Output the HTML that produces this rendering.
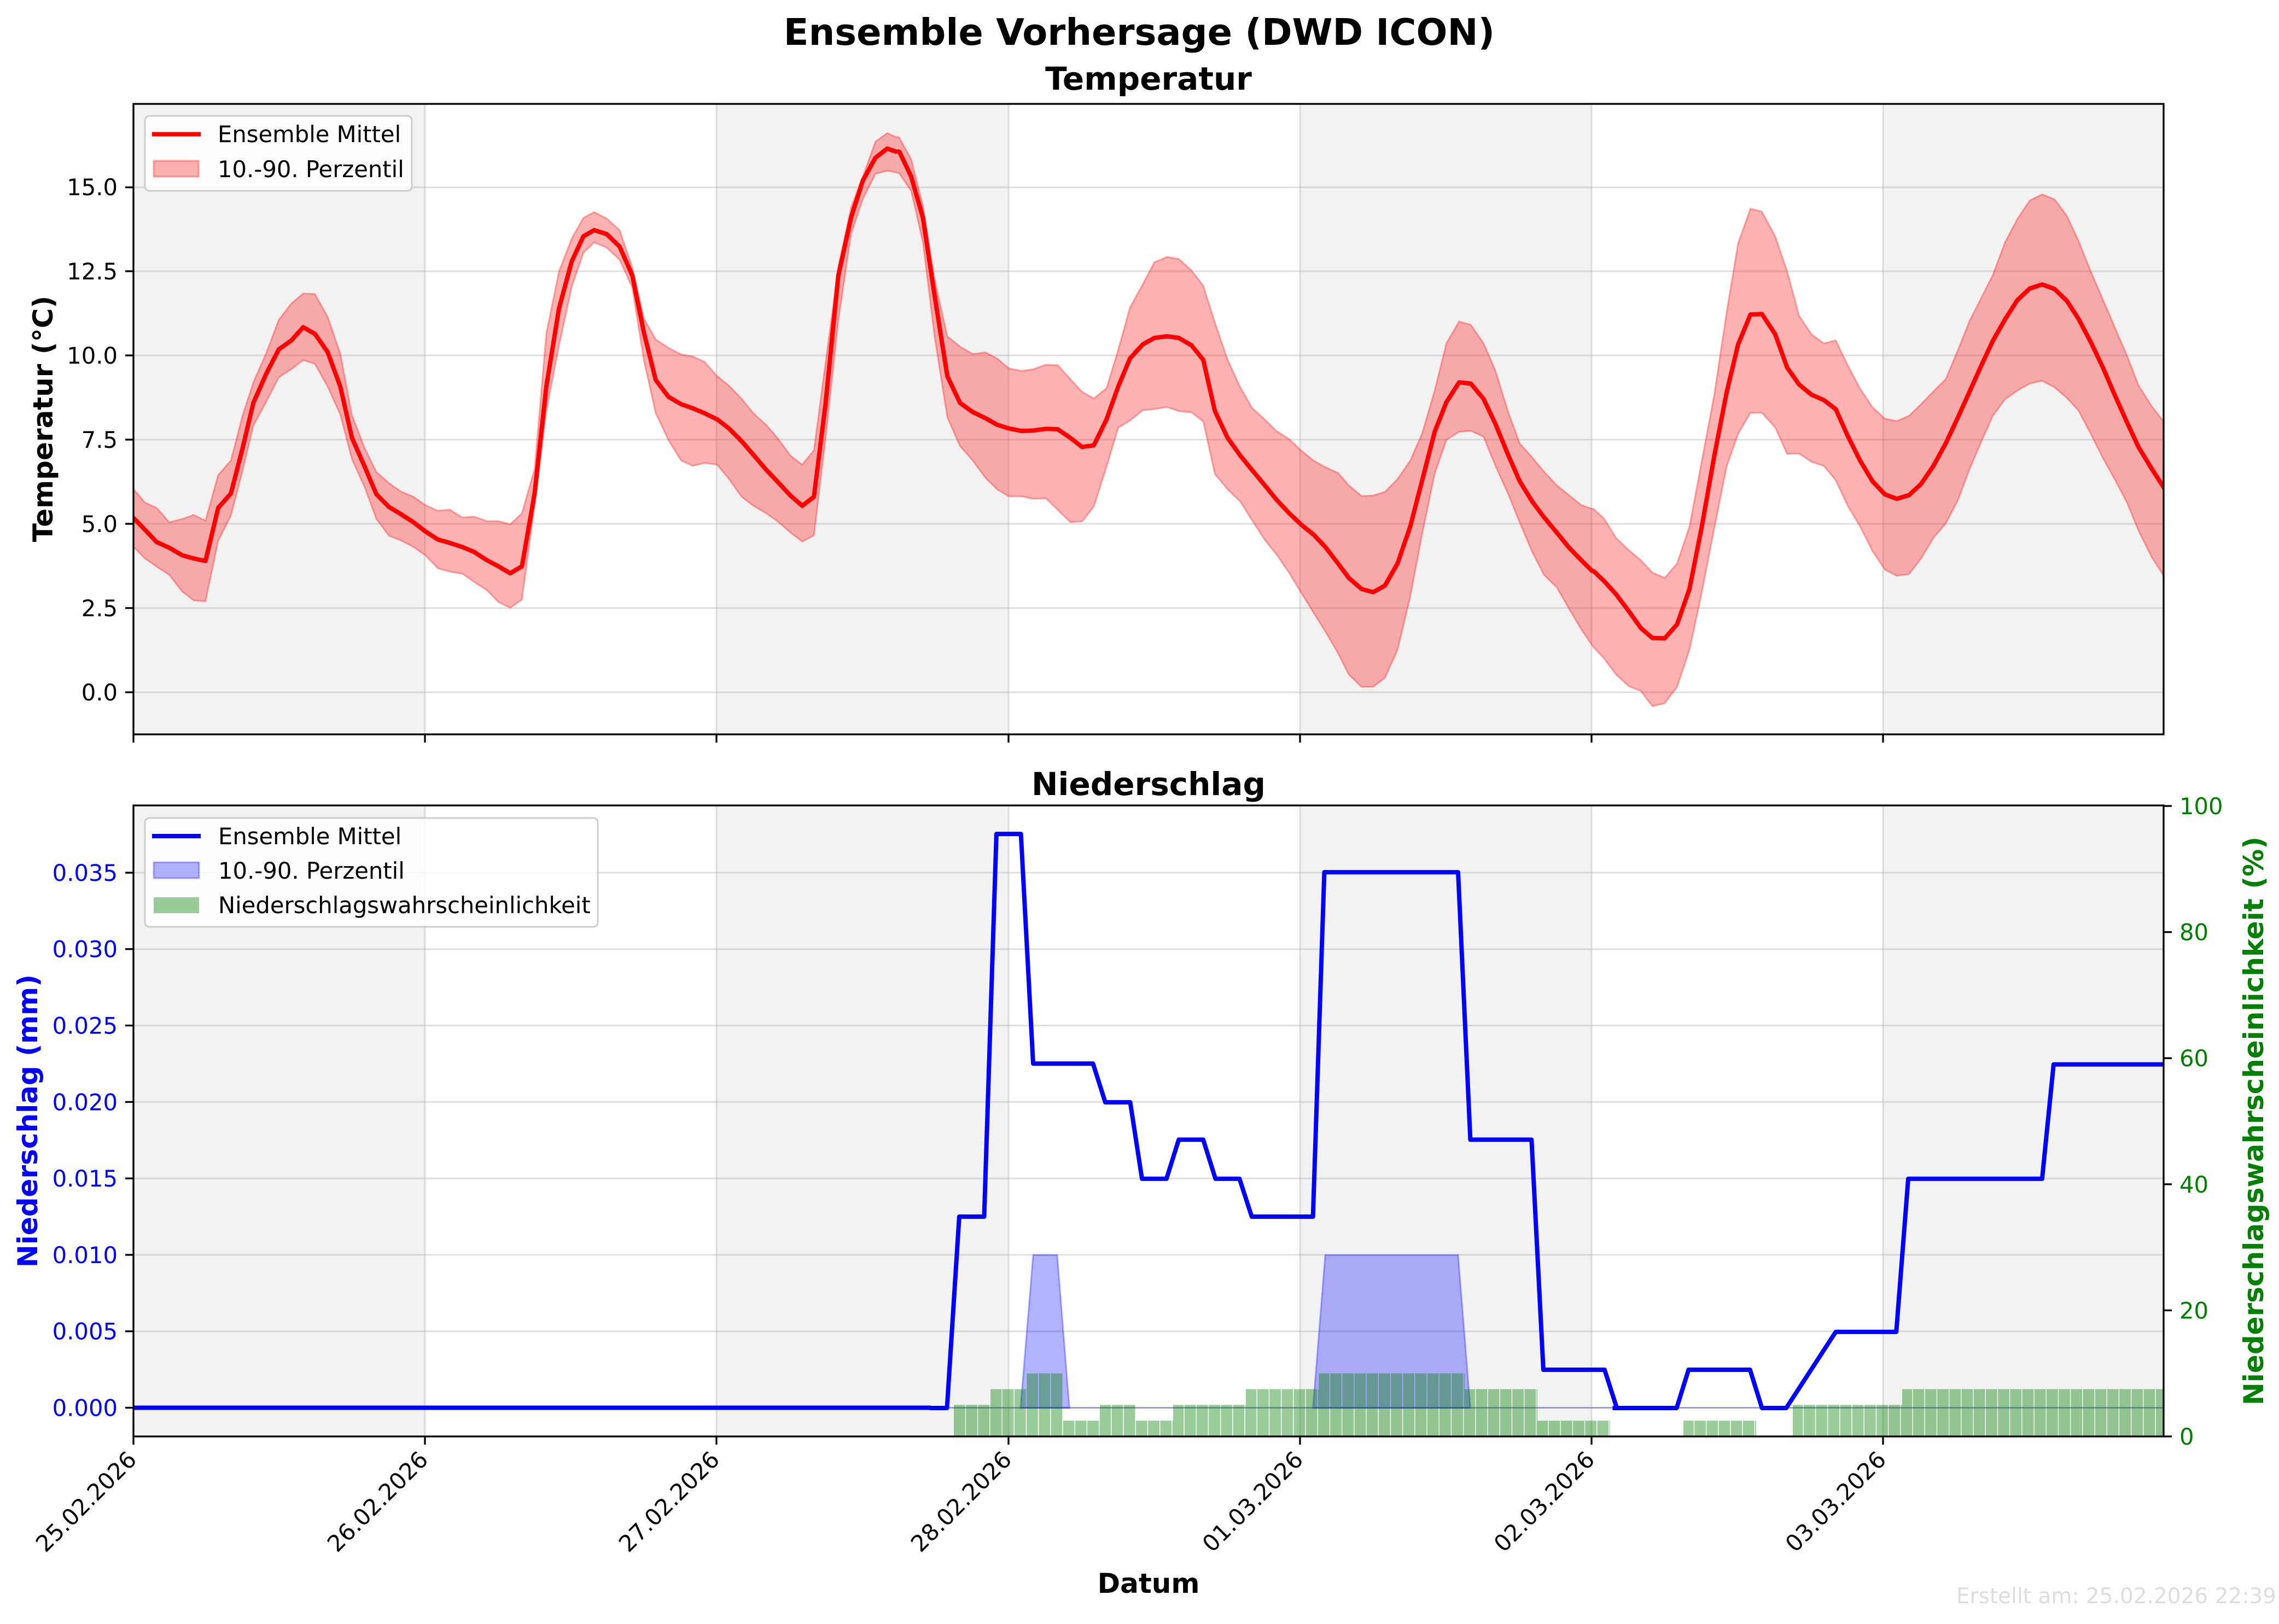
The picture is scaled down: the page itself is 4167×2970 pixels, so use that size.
<!DOCTYPE html>
<html><head><meta charset="utf-8"><style>html,body{margin:0;padding:0;background:#fff}svg{display:block}</style></head>
<body>
<svg xmlns="http://www.w3.org/2000/svg" width="4167" height="2970" viewBox="0 0 4167 2970" font-family="'DejaVu Sans','Liberation Sans',sans-serif">
<defs>
<clipPath id="c1"><rect x="244" y="190" width="3712" height="1153"/></clipPath>
<clipPath id="c2"><rect x="244" y="1473" width="3712" height="1154"/></clipPath>
<pattern id="pb" patternUnits="userSpaceOnUse" x="1744" y="0" width="22.2" height="3000"><rect x="0" y="0" width="20.7" height="3000" fill="rgb(0,128,0)" fill-opacity="0.4"/></pattern>
</defs>
<rect width="4167" height="2970" fill="#fff"/>
<text x="2083" y="82" font-size="67" font-weight="bold" text-anchor="middle">Ensemble Vorhersage (DWD ICON)</text>

<text x="2100" y="164" font-size="58" font-weight="bold" text-anchor="middle">Temperatur</text>
<g clip-path="url(#c1)">
<rect x="244" y="190" width="533" height="1153" fill="#f2f2f2"/>
<rect x="1310" y="190" width="533" height="1153" fill="#f2f2f2"/>
<rect x="2377" y="190" width="533" height="1153" fill="#f2f2f2"/>
<rect x="3443" y="190" width="513" height="1153" fill="#f2f2f2"/>
<g stroke="#b0b0b0" stroke-opacity="0.4" stroke-width="3">
<line x1="244" x2="3956" y1="1266" y2="1266"/><line x1="244" x2="3956" y1="1112" y2="1112"/><line x1="244" x2="3956" y1="958" y2="958"/><line x1="244" x2="3956" y1="804" y2="804"/><line x1="244" x2="3956" y1="650" y2="650"/><line x1="244" x2="3956" y1="496" y2="496"/><line x1="244" x2="3956" y1="342.6" y2="342.6"/>
<line x1="777" x2="777" y1="190" y2="1343"/><line x1="1310" x2="1310" y1="190" y2="1343"/><line x1="1844" x2="1844" y1="190" y2="1343"/><line x1="2377" x2="2377" y1="190" y2="1343"/><line x1="2910" x2="2910" y1="190" y2="1343"/><line x1="3443" x2="3443" y1="190" y2="1343"/>
</g>
<g transform="translate(240,180) scale(0.892857,0.75256)">
<polygon fill="rgb(255,0,0)" fill-opacity="0.3" points="5,950 28,982 52,995 78,1030 104,1022 128,1012 152,1026 178,915 204,880 228,770 250,690 276,620 302,538 328,498 352,474 376,475 402,530 428,620 452,770 478,850 502,908 528,935 552,955 578,968 602,988 628,1002 652,999 678,1018 702,1016 728,1027 752,1027 776,1035 800,1008 826,900 850,570 876,420 902,340 926,290 948,276 974,292 1000,320 1026,410 1050,535 1074,586 1100,606 1126,622 1150,627 1174,640 1200,675 1224,698 1250,730 1274,765 1300,793 1324,826 1350,868 1374,890 1398,855 1422,640 1448,410 1474,265 1498,190 1524,105 1548,84 1568,95 1568,180 1548,176 1524,183 1498,245 1474,330 1448,540 1422,825 1398,1062 1374,1077 1350,1055 1324,1028 1300,1008 1274,990 1250,968 1224,925 1200,890 1174,886 1150,893 1126,880 1100,830 1074,765 1050,638 1026,460 1000,392 974,363 948,350 926,375 902,458 876,600 850,760 826,990 800,1218 776,1238 752,1224 728,1195 702,1175 678,1155 652,1150 628,1142 602,1110 578,1090 552,1074 528,1063 502,1022 478,945 452,877 428,768 402,700 376,645 352,636 328,658 302,678 276,738 250,795 228,905 204,1014 178,1075 152,1222 128,1220 104,1198 78,1158 52,1138 28,1118 5,1090"/>
<g fill="none" stroke="rgb(255,0,0)" stroke-opacity="0.3" stroke-width="3">
<polyline vector-effect="non-scaling-stroke" points="5,950 28,982 52,995 78,1030 104,1022 128,1012 152,1026 178,915 204,880 228,770 250,690 276,620 302,538 328,498 352,474 376,475 402,530 428,620 452,770 478,850 502,908 528,935 552,955 578,968 602,988 628,1002 652,999 678,1018 702,1016 728,1027 752,1027 776,1035 800,1008 826,900 850,570 876,420 902,340 926,290 948,276 974,292 1000,320 1026,410 1050,535 1074,586 1100,606 1126,622 1150,627 1174,640 1200,675 1224,698 1250,730 1274,765 1300,793 1324,826 1350,868 1374,890 1398,855 1422,640 1448,410 1474,265 1498,190 1524,105 1548,84 1568,95"/>
<polyline vector-effect="non-scaling-stroke" points="5,1090 28,1118 52,1138 78,1158 104,1198 128,1220 152,1222 178,1075 204,1014 228,905 250,795 276,738 302,678 328,658 352,636 376,645 402,700 428,768 452,877 478,945 502,1022 528,1063 552,1074 578,1090 602,1110 628,1142 652,1150 678,1155 702,1175 728,1195 752,1224 776,1238 800,1218 826,990 850,760 876,600 902,458 926,375 948,350 974,363 1000,392 1026,460 1050,638 1074,765 1100,830 1126,880 1150,893 1174,886 1200,890 1224,925 1250,968 1274,990 1300,1008 1324,1028 1350,1055 1374,1077 1398,1062 1422,825 1448,540 1474,330 1498,245 1524,183 1548,176 1568,180"/>
</g>
<polyline fill="none" stroke="#ff0000" stroke-width="8" stroke-linejoin="round" vector-effect="non-scaling-stroke" points="0,1015 5,1020 28,1048 52,1078 78,1092 104,1110 128,1118 152,1124 178,995 204,960 228,850 250,740 276,670 302,610 328,588 352,556 376,572 402,616 428,700 452,825 478,895 502,962 528,993 552,1010 578,1030 602,1052 628,1072 652,1080 678,1090 702,1102 728,1122 752,1137 776,1154 800,1137 826,960 850,700 876,510 902,396 926,335 948,320 974,330 1000,360 1026,430 1050,570 1074,684 1100,725 1126,743 1150,753 1174,765 1200,780 1224,802 1250,833 1274,866 1300,902 1324,932 1350,965 1374,990 1398,968 1422,740 1448,430 1474,290 1498,200 1524,144 1548,122 1568,130"/>
</g>
<g transform="translate(1600,180) scale(0.892857,0.75256)">
<polygon fill="rgb(255,0,0)" fill-opacity="0.3" points="45,92 50,96 74,148 98,260 122,440 148,578 174,603 200,621 226,617 250,632 274,656 300,662 324,658 350,647 374,648 400,682 424,713 448,729 474,704 498,610 522,508 548,452 572,398 598,385 622,390 648,418 672,455 696,545 722,635 748,702 772,752 798,780 822,808 848,828 872,855 898,880 922,896 948,910 970,940 996,966 1020,965 1044,956 1070,925 1096,880 1120,815 1146,710 1170,595 1196,542 1220,550 1246,595 1270,660 1296,760 1320,838 1346,873 1370,907 1396,940 1420,963 1446,988 1470,998 1470,1332 1446,1290 1420,1238 1396,1188 1370,1158 1346,1103 1320,1030 1296,960 1270,892 1246,822 1220,808 1196,810 1170,830 1146,912 1120,1060 1096,1210 1070,1340 1044,1408 1020,1430 996,1430 970,1400 948,1348 922,1295 898,1250 872,1200 848,1153 822,1108 798,1073 772,1025 748,980 722,950 696,913 672,785 648,763 622,760 598,750 572,755 548,758 522,783 498,800 474,895 448,992 424,1028 400,1030 374,1000 350,972 324,973 300,967 274,967 250,950 226,922 200,880 174,845 148,775 122,580 98,350 74,225 50,183 45,180"/>
<g fill="none" stroke="rgb(255,0,0)" stroke-opacity="0.3" stroke-width="3">
<polyline vector-effect="non-scaling-stroke" points="45,92 50,96 74,148 98,260 122,440 148,578 174,603 200,621 226,617 250,632 274,656 300,662 324,658 350,647 374,648 400,682 424,713 448,729 474,704 498,610 522,508 548,452 572,398 598,385 622,390 648,418 672,455 696,545 722,635 748,702 772,752 798,780 822,808 848,828 872,855 898,880 922,896 948,910 970,940 996,966 1020,965 1044,956 1070,925 1096,880 1120,815 1146,710 1170,595 1196,542 1220,550 1246,595 1270,660 1296,760 1320,838 1346,873 1370,907 1396,940 1420,963 1446,988 1470,998"/>
<polyline vector-effect="non-scaling-stroke" points="45,180 50,183 74,225 98,350 122,580 148,775 174,845 200,880 226,922 250,950 274,967 300,967 324,973 350,972 374,1000 400,1030 424,1028 448,992 474,895 498,800 522,783 548,758 572,755 598,750 622,760 648,763 672,785 696,913 722,950 748,980 772,1025 798,1073 822,1108 848,1153 872,1200 898,1250 922,1295 948,1348 970,1400 996,1430 1020,1430 1044,1408 1070,1340 1096,1210 1120,1060 1146,912 1170,830 1196,810 1220,808 1246,822 1270,892 1296,960 1320,1030 1346,1103 1370,1158 1396,1188 1420,1238 1446,1290 1470,1332"/>
</g>
<polyline fill="none" stroke="#ff0000" stroke-width="8" stroke-linejoin="round" vector-effect="non-scaling-stroke" points="45,128 50,130 74,190 98,290 122,480 148,675 174,740 200,762 226,777 250,793 274,802 300,808 324,807 350,803 374,804 400,825 424,847 448,843 474,780 498,700 522,632 548,598 572,582 598,578 622,582 648,600 672,635 696,760 722,825 748,868 772,903 798,940 822,975 848,1008 872,1035 898,1060 922,1090 948,1130 970,1165 996,1192 1020,1200 1044,1184 1070,1130 1096,1040 1120,930 1146,810 1170,738 1196,690 1220,693 1246,730 1270,790 1296,865 1320,930 1346,980 1370,1018 1396,1055 1420,1090 1446,1122 1470,1150"/>
</g>
<g transform="translate(2900,180) scale(0.80802,0.75256)">
<polygon fill="rgb(255,0,0)" fill-opacity="0.3" points="15.5,996 40,1020 68,1068 96,1097 124,1122 150,1152 178,1165 206,1130 234,1040 262,880 290,720 318,520 344,352 372,268 398,275 428,335 455,420 482,528 510,573 538,595 565,588 592,648 620,705 648,750 676,778 703,784 731,771 758,743 786,712 814,682 842,610 868,540 894,485 920,430 948,350 976,293 1004,248 1032,233 1060,245 1088,285 1114,345 1142,420 1170,490 1196,555 1224,625 1250,697 1280,748 1307,785 1330,800 1330,1180 1307,1160 1280,1115 1250,1050 1224,982 1196,925 1170,875 1142,815 1114,758 1088,728 1060,702 1032,686 1004,693 976,710 948,731 920,772 894,835 868,900 842,975 814,1033 786,1068 758,1118 731,1156 703,1160 676,1145 648,1100 620,1040 592,990 565,928 538,893 510,883 482,863 455,864 428,800 398,764 372,764 344,815 318,895 290,1045 262,1200 234,1340 206,1430 178,1470 150,1477 124,1440 96,1428 68,1400 40,1360 15.5,1332"/>
<g fill="none" stroke="rgb(255,0,0)" stroke-opacity="0.3" stroke-width="3">
<polyline vector-effect="non-scaling-stroke" points="15.5,996 40,1020 68,1068 96,1097 124,1122 150,1152 178,1165 206,1130 234,1040 262,880 290,720 318,520 344,352 372,268 398,275 428,335 455,420 482,528 510,573 538,595 565,588 592,648 620,705 648,750 676,778 703,784 731,771 758,743 786,712 814,682 842,610 868,540 894,485 920,430 948,350 976,293 1004,248 1032,233 1060,245 1088,285 1114,345 1142,420 1170,490 1196,555 1224,625 1250,697 1280,748 1307,785"/>
<polyline vector-effect="non-scaling-stroke" points="15.5,1332 40,1360 68,1400 96,1428 124,1440 150,1477 178,1470 206,1430 234,1340 262,1200 290,1045 318,895 344,815 372,764 398,764 428,800 455,864 482,863 510,883 538,893 565,928 592,990 620,1040 648,1100 676,1145 703,1160 731,1156 758,1118 786,1068 814,1033 842,975 868,900 894,835 920,772 948,731 976,710 1004,693 1032,686 1060,702 1088,728 1114,758 1142,815 1170,875 1196,925 1224,982 1250,1050 1280,1115 1307,1160"/>
</g>
<polyline fill="none" stroke="#ff0000" stroke-width="8" stroke-linejoin="round" vector-effect="non-scaling-stroke" points="15.5,1147 40,1172 68,1205 96,1245 124,1287 150,1311 178,1312 206,1278 234,1192 262,1040 290,870 318,715 344,598 372,525 398,524 428,573 455,654 482,695 510,720 538,733 565,755 592,820 620,880 648,930 676,962 703,973 731,964 758,937 786,893 814,838 842,774 868,712 894,650 920,590 948,537 976,490 1004,462 1032,452 1060,463 1088,492 1114,535 1142,592 1170,655 1196,720 1224,787 1250,847 1280,900 1307,945 1330,980"/>
</g>
</g>
<rect x="244" y="190" width="3712" height="1153" fill="none" stroke="#000" stroke-width="3.3"/>
<g stroke="#000" stroke-width="3.3">
<line x1="229" x2="244" y1="1266" y2="1266"/><line x1="229" x2="244" y1="1112" y2="1112"/><line x1="229" x2="244" y1="958" y2="958"/><line x1="229" x2="244" y1="804" y2="804"/><line x1="229" x2="244" y1="650" y2="650"/><line x1="229" x2="244" y1="496" y2="496"/><line x1="229" x2="244" y1="342.6" y2="342.6"/>
<line x1="244" x2="244" y1="1343" y2="1358"/><line x1="777" x2="777" y1="1343" y2="1358"/><line x1="1310" x2="1310" y1="1343" y2="1358"/><line x1="1844" x2="1844" y1="1343" y2="1358"/><line x1="2377" x2="2377" y1="1343" y2="1358"/><line x1="2910" x2="2910" y1="1343" y2="1358"/><line x1="3443" x2="3443" y1="1343" y2="1358"/>
</g>
<g font-size="41.7" text-anchor="end">
<text x="215" y="1281">0.0</text><text x="215" y="1127">2.5</text><text x="215" y="973">5.0</text><text x="215" y="819">7.5</text><text x="215" y="665">10.0</text><text x="215" y="511">12.5</text><text x="215" y="357">15.0</text>
</g>
<text transform="translate(96,766) rotate(-90)" font-size="50" font-weight="bold" text-anchor="middle">Temperatur (°C)</text>
<rect x="265" y="212" width="488" height="137" rx="8" fill="#fff" fill-opacity="0.8" stroke="#cccccc" stroke-width="3"/>
<line x1="278" x2="367" y1="245.5" y2="245.5" stroke="#ff0000" stroke-width="8"/>
<text x="398" y="260" font-size="41.7">Ensemble Mittel</text>
<rect x="281" y="294" width="82" height="29" fill="rgb(255,0,0)" fill-opacity="0.3" stroke="rgb(255,0,0)" stroke-opacity="0.3" stroke-width="3"/>
<text x="398" y="324" font-size="41.7">10.-90. Perzentil</text>

<text x="2100" y="1454" font-size="58" font-weight="bold" text-anchor="middle">Niederschlag</text>
<g clip-path="url(#c2)">
<rect x="244" y="1473" width="533" height="1154" fill="#f2f2f2"/>
<rect x="1310" y="1473" width="533" height="1154" fill="#f2f2f2"/>
<rect x="2377" y="1473" width="533" height="1154" fill="#f2f2f2"/>
<rect x="3443" y="1473" width="513" height="1154" fill="#f2f2f2"/>
<g stroke="#b0b0b0" stroke-opacity="0.4" stroke-width="3">
<line x1="244" x2="3956" y1="2574.5" y2="2574.5"/><line x1="244" x2="3956" y1="2434.7" y2="2434.7"/><line x1="244" x2="3956" y1="2294.9" y2="2294.9"/><line x1="244" x2="3956" y1="2155.1" y2="2155.1"/><line x1="244" x2="3956" y1="2015.3" y2="2015.3"/><line x1="244" x2="3956" y1="1875.5" y2="1875.5"/><line x1="244" x2="3956" y1="1735.7" y2="1735.7"/><line x1="244" x2="3956" y1="1596" y2="1596"/>
<line x1="777" x2="777" y1="1473" y2="2627"/><line x1="1310" x2="1310" y1="1473" y2="2627"/><line x1="1844" x2="1844" y1="1473" y2="2627"/><line x1="2377" x2="2377" y1="1473" y2="2627"/><line x1="2910" x2="2910" y1="1473" y2="2627"/><line x1="3443" x2="3443" y1="1473" y2="2627"/>
</g>
<line x1="244" x2="3956" y1="2574.5" y2="2574.5" stroke="rgb(0,0,255)" stroke-opacity="0.3" stroke-width="3"/>
<line x1="244" x2="1702" y1="2574.5" y2="2574.5" stroke="#0000ff" stroke-width="8"/>
<g transform="translate(1700,1480) scale(0.82921,0.75256)">
<polygon fill="rgb(0,0,255)" fill-opacity="0.3" stroke="rgb(0,0,255)" stroke-opacity="0.3" stroke-width="3" vector-effect="non-scaling-stroke" points="200,1455 228,1083 281,1083 308,1455"/>
<polygon fill="rgb(0,0,255)" fill-opacity="0.3" stroke="rgb(0,0,255)" stroke-opacity="0.3" stroke-width="3" vector-effect="non-scaling-stroke" points="845,1455 872,1083 1165,1083 1192,1455"/>
<polyline fill="none" stroke="#0000ff" stroke-width="8" stroke-linejoin="round" vector-effect="non-scaling-stroke" points="0,1455 38,1455 65,990 120,990 147,60 201,60 228,618 360,618 387,712 442,712 468,898 522,898 549,803 603,803 630,898 683,898 710,990 845,990 870,153 1165,153 1192,803 1327,803 1353,1362 1488,1362 1515,1455 1540,1455"/>
</g>
<g transform="translate(2900,1480) scale(0.80802,0.75256)">
<polyline fill="none" stroke="#0000ff" stroke-width="8" stroke-linejoin="round" vector-effect="non-scaling-stroke" points="60,1455 205,1455 232,1362 371,1362 398,1455 453,1455 565,1270 702,1270 729,898 1032,898 1058,620 1330,620"/>
</g>
<g fill="url(#pb)">
<rect x="1744" y="2569.3" width="67" height="57.7"/>
<rect x="1811" y="2540.5" width="66.5" height="86.5"/>
<rect x="1877.5" y="2511.7" width="66.5" height="115.3"/>
<rect x="1944" y="2598.2" width="67" height="28.8"/>
<rect x="2011" y="2569.3" width="66" height="57.7"/>
<rect x="2077" y="2598.2" width="68" height="28.8"/>
<rect x="2145" y="2569.3" width="133" height="57.7"/>
<rect x="2278" y="2540.5" width="133.5" height="86.5"/>
<rect x="2411.5" y="2511.7" width="266.5" height="115.3"/>
<rect x="2678" y="2540.5" width="133" height="86.5"/>
<rect x="2811" y="2598.2" width="133" height="28.8"/>
<rect x="3078" y="2598.2" width="133" height="28.8"/>
<rect x="3278" y="2569.3" width="200" height="57.7"/>
<rect x="3478" y="2540.5" width="478" height="86.5"/>
</g>
</g>
<rect x="244" y="1473" width="3712" height="1154" fill="none" stroke="#000" stroke-width="3.3"/>
<g stroke="#000" stroke-width="3.3">
<line x1="229" x2="244" y1="2574.5" y2="2574.5"/><line x1="229" x2="244" y1="2434.7" y2="2434.7"/><line x1="229" x2="244" y1="2294.9" y2="2294.9"/><line x1="229" x2="244" y1="2155.1" y2="2155.1"/><line x1="229" x2="244" y1="2015.3" y2="2015.3"/><line x1="229" x2="244" y1="1875.5" y2="1875.5"/><line x1="229" x2="244" y1="1735.7" y2="1735.7"/><line x1="229" x2="244" y1="1596" y2="1596"/>
<line x1="3956" x2="3971" y1="2627" y2="2627"/><line x1="3956" x2="3971" y1="2396.4" y2="2396.4"/><line x1="3956" x2="3971" y1="2165.8" y2="2165.8"/><line x1="3956" x2="3971" y1="1935.2" y2="1935.2"/><line x1="3956" x2="3971" y1="1704.6" y2="1704.6"/><line x1="3956" x2="3971" y1="1474" y2="1474"/>
<line x1="244" x2="244" y1="2627" y2="2642"/><line x1="777" x2="777" y1="2627" y2="2642"/><line x1="1310" x2="1310" y1="2627" y2="2642"/><line x1="1844" x2="1844" y1="2627" y2="2642"/><line x1="2377" x2="2377" y1="2627" y2="2642"/><line x1="2910" x2="2910" y1="2627" y2="2642"/><line x1="3443" x2="3443" y1="2627" y2="2642"/>
</g>
<g font-size="41.7" text-anchor="end" fill="#0000ff">
<text x="215" y="2589.5">0.000</text><text x="215" y="2449.7">0.005</text><text x="215" y="2309.9">0.010</text><text x="215" y="2170.1">0.015</text><text x="215" y="2030.3">0.020</text><text x="215" y="1890.5">0.025</text><text x="215" y="1750.7">0.030</text><text x="215" y="1611">0.035</text>
</g>
<g font-size="41.7" fill="#008000">
<text x="3985" y="2642">0</text><text x="3985" y="2411.4">20</text><text x="3985" y="2180.8">40</text><text x="3985" y="1950.2">60</text><text x="3985" y="1719.6">80</text><text x="3985" y="1489">100</text>
</g>
<text transform="translate(68,2050) rotate(-90)" font-size="50" font-weight="bold" text-anchor="middle" fill="#0000ff">Niederschlag (mm)</text>
<text transform="translate(4138,2050) rotate(-90)" font-size="50" font-weight="bold" text-anchor="middle" fill="#008000">Niederschlagswahrscheinlichkeit (%)</text>
<g font-size="41.7" text-anchor="end">
<text transform="translate(252,2672) rotate(-45)">25.02.2026</text>
<text transform="translate(785,2672) rotate(-45)">26.02.2026</text>
<text transform="translate(1318,2672) rotate(-45)">27.02.2026</text>
<text transform="translate(1852,2672) rotate(-45)">28.02.2026</text>
<text transform="translate(2385,2672) rotate(-45)">01.03.2026</text>
<text transform="translate(2918,2672) rotate(-45)">02.03.2026</text>
<text transform="translate(3451,2672) rotate(-45)">03.03.2026</text>
</g>
<text x="2100" y="2913" font-size="50" font-weight="bold" text-anchor="middle">Datum</text>
<text x="4162" y="2932" font-size="39" fill="#dddddd" text-anchor="end">Erstellt am: 25.02.2026 22:39</text>
<rect x="265" y="1496" width="828" height="199" rx="8" fill="#fff" fill-opacity="0.8" stroke="#cccccc" stroke-width="3"/>
<line x1="278" x2="367" y1="1529" y2="1529" stroke="#0000ff" stroke-width="8"/>
<text x="399" y="1544" font-size="41.7">Ensemble Mittel</text>
<rect x="281" y="1577" width="83" height="29" fill="rgb(0,0,255)" fill-opacity="0.3" stroke="rgb(0,0,255)" stroke-opacity="0.3" stroke-width="3"/>
<text x="399" y="1607" font-size="41.7">10.-90. Perzentil</text>
<rect x="281" y="1641" width="83" height="29" fill="rgb(0,128,0)" fill-opacity="0.4"/>
<text x="399" y="1670" font-size="41.7">Niederschlagswahrscheinlichkeit</text>
</svg>
</body></html>
